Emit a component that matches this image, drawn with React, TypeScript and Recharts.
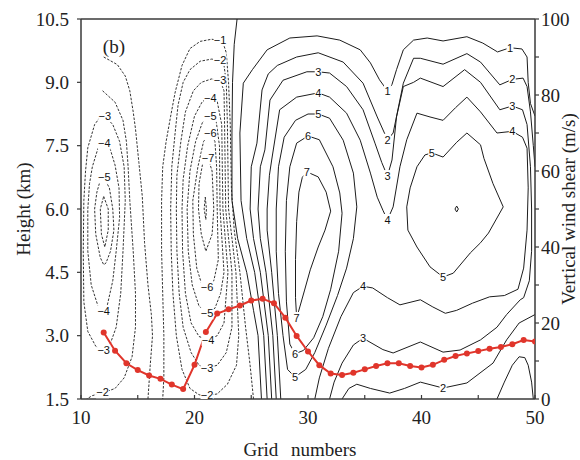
import { ComposedChart, Line, XAxis, YAxis, ReferenceLine, ReferenceDot } from 'recharts'

type Pt = [number, number]

// axes
const xTicks = [10, 15, 20, 25, 30, 35, 40, 45, 50]
const hTicks = [1.5, 3, 4.5, 6, 7.5, 9, 10.5]
const wTicks = [0, 10, 20, 30, 40, 50, 60, 70, 80, 90, 100]

// vertical wind shear (m/s) per grid number
const shearX = [12, 13, 14, 15, 16, 17, 18, 19, 20, 21, 22, 23, 24, 25, 26, 27, 28, 29, 30, 31,
  32, 33, 34, 35, 36, 37, 38, 39, 40, 41, 42, 43, 44, 45, 46, 47, 48, 49, 50]
const shearW = [17.5, 12.7, 9.4, 7.6, 6.2, 5.3, 3.8, 2.6, 9.0, 17.6, 22.5, 23.6, 24.6, 25.9, 26.4, 25.2, 21.4, 16.6, 12.5, 8.9,
  6.7, 6.3, 6.9, 7.8, 8.7, 9.4, 9.4, 8.7, 8.3, 9.0, 10.3, 11.3, 12.0, 12.6, 13.2, 13.7, 14.4, 15.5, 15.1]

// contours, [grid number, height km]
// left negative cell
const cL1: Pt[] = [[12.0, 9.6], [13.2, 9.42], [13.9, 9.15], [14.3, 8.8], [14.6, 8.3], [14.8, 7.9], [15.1, 7.1], [15.4, 6.3], [15.6, 5.2], [15.9, 4.2], [16.2, 3.5], [16.3, 3.0], [16.1, 2.3], [15.9, 1.5]]
const cL2: Pt[] = [[11.9, 8.8], [13.0, 8.53], [13.7, 8.1], [14.0, 7.6], [14.15, 7.0], [14.3, 6.2], [14.6, 5.0], [14.8, 4.0], [14.8, 3.2], [14.5, 2.5], [13.8, 2.0], [13.0, 1.75], [12.0, 1.65], [11.0, 1.58], [10.5, 1.5]]
const cL3: Pt[] = [[12.1, 8.2], [12.8, 8.0], [13.4, 7.6], [13.8, 7.0], [13.9, 6.2], [13.7, 5.0], [13.5, 4.0], [13.1, 3.2], [12.5, 2.75], [12.0, 2.65], [11.3, 2.75], [10.6, 3.1], [10.25, 3.8], [10.2, 5.0], [10.25, 6.2], [10.4, 6.9], [10.6, 7.45], [11.2, 8.0], [11.7, 8.18], [12.1, 8.2]]
const cL4: Pt[] = [[12.0, 7.55], [12.55, 7.44], [13.0, 7.04], [13.35, 6.5], [13.4, 5.8], [13.1, 5.0], [12.8, 4.3], [12.3, 3.7], [12.0, 3.58], [11.5, 3.7], [10.9, 4.2], [10.6, 5.0], [10.6, 6.0], [10.75, 6.6], [11.0, 7.0], [11.5, 7.44], [12.0, 7.55]]
const cL5: Pt[] = [[12.0, 6.75], [12.5, 6.5], [12.8, 6.0], [12.9, 5.5], [12.6, 5.0], [12.2, 4.72], [12.0, 4.68], [11.7, 4.85], [11.3, 5.4], [11.2, 6.0], [11.4, 6.4], [11.7, 6.68], [12.0, 6.75]]
const cL6: Pt[] = [[12.0, 6.3], [12.4, 6.0], [12.4, 5.5], [12.1, 5.1], [11.8, 5.4], [11.7, 6.0], [12.0, 6.3]]

// middle negative cell
const cM1: Pt[] = [[25.2, 1.5], [24.9, 2.3], [24.5, 3.2], [24.0, 4.5], [23.5, 5.5], [23.25, 6.5], [23.15, 8.0], [23.0, 9.0], [22.8, 9.7], [22.5, 9.95], [22.25, 10.0], [21.5, 10.02], [20.5, 9.97], [19.6, 9.8], [18.9, 9.4], [18.3, 8.77], [17.9, 8.2], [17.5, 7.6], [17.2, 7.0], [17.1, 6.2], [17.1, 5.0], [17.2, 4.0], [17.3, 3.0], [17.3, 2.0], [17.2, 1.5]]
const cM2: Pt[] = [[21.1, 1.58], [22.0, 1.62], [22.9, 1.85], [23.7, 2.3], [23.9, 3.0], [23.65, 4.5], [23.0, 6.0], [22.9, 8.0], [22.8, 9.0], [22.6, 9.4], [22.25, 9.53], [21.5, 9.55], [20.5, 9.5], [19.6, 9.3], [19.0, 9.0], [18.55, 8.46], [18.3, 7.82], [18.0, 7.0], [17.9, 6.0], [17.95, 5.0], [18.1, 4.0], [18.4, 3.0], [18.9, 2.2], [19.6, 1.75], [20.4, 1.6], [21.1, 1.58]]
const cM3: Pt[] = [[21.1, 2.23], [22.0, 2.3], [22.8, 2.6], [23.3, 3.2], [23.3, 4.5], [22.75, 6.0], [22.65, 8.0], [22.6, 8.8], [22.25, 9.05], [21.5, 9.08], [20.6, 9.0], [19.9, 8.8], [19.2, 8.3], [18.8, 7.6], [18.45, 6.8], [18.4, 6.0], [18.45, 5.0], [18.65, 4.0], [19.0, 3.2], [19.7, 2.6], [20.4, 2.3], [21.1, 2.23]]
const cM4: Pt[] = [[21.2, 2.9], [22.0, 3.0], [22.6, 3.3], [22.95, 4.5], [22.5, 6.0], [22.4, 8.0], [22.0, 8.55], [21.4, 8.63], [20.7, 8.55], [20.0, 8.2], [19.4, 7.5], [19.0, 6.7], [18.9, 6.0], [18.95, 5.0], [19.2, 4.0], [19.7, 3.3], [20.4, 2.98], [21.2, 2.9]]
const cM5: Pt[] = [[21.1, 3.53], [21.8, 3.65], [22.3, 4.0], [22.6, 4.5], [22.25, 6.0], [22.2, 7.5], [21.9, 8.1], [21.4, 8.2], [20.7, 8.05], [20.1, 7.6], [19.6, 6.9], [19.35, 6.0], [19.45, 5.0], [19.8, 4.2], [20.4, 3.7], [21.1, 3.53]]
const cM6: Pt[] = [[21.1, 4.15], [21.7, 4.3], [22.1, 4.8], [22.0, 6.0], [21.95, 7.0], [21.8, 7.6], [21.4, 7.8], [20.8, 7.6], [20.3, 7.0], [19.85, 6.2], [19.9, 5.4], [20.2, 4.6], [20.6, 4.25], [21.1, 4.15]]
const cM7: Pt[] = [[21.2, 7.2], [21.55, 6.9], [21.7, 6.0], [21.55, 5.4], [21.0, 5.0], [20.6, 5.4], [20.35, 6.0], [20.4, 6.6], [20.7, 7.05], [21.2, 7.2]]
const cM8: Pt[] = [[20.95, 6.28], [21.05, 6.0], [21.0, 5.75], [20.85, 6.0], [20.95, 6.28]]

// positive region
const cP0: Pt[] = [[23.75, 10.5], [23.5, 9.9], [23.35, 9.0], [23.3, 7.8], [23.3, 6.2], [23.8, 5.3], [24.6, 4.5], [25.2, 3.6], [25.6, 3.0], [25.9, 1.5]]
const cP1: Pt[] = [[26.4, 1.5], [26.1, 3.0], [25.3, 4.5], [24.6, 5.3], [24.1, 6.2], [24.0, 7.8], [24.3, 8.98], [25.1, 9.3], [26.4, 9.77], [28.4, 10.05], [30.8, 10.1], [32.8, 10.0], [34.6, 9.77], [35.5, 9.46], [36.3, 9.06], [37.0, 8.8], [37.4, 8.95], [37.8, 9.3], [38.4, 9.77], [39.3, 10.0], [40.5, 10.05], [41.9, 9.98], [44.0, 10.08], [45.4, 9.93], [46.7, 9.72], [47.8, 9.82], [48.85, 9.79], [49.3, 9.6], [49.4, 9.0], [49.6, 8.5], [50, 8.2]]
const cP2: Pt[] = [[26.8, 1.5], [26.5, 3.0], [25.8, 4.5], [25.2, 5.3], [24.9, 6.0], [25.0, 7.0], [25.5, 7.56], [25.95, 8.82], [26.5, 9.2], [27.3, 9.4], [29.0, 9.6], [30.9, 9.7], [33.1, 9.48], [34.85, 8.98], [36.1, 8.18], [37.0, 7.64], [37.5, 7.8], [38.4, 8.98], [39.3, 9.57], [39.9, 9.57], [41.9, 9.43], [44.0, 9.68], [45.2, 9.48], [46.9, 8.94], [48.0, 9.07], [48.95, 9.1], [49.3, 8.9], [49.6, 8.3], [49.85, 7.5], [50, 7.0]]
const cP3: Pt[] = [[27.2, 1.5], [26.9, 3.0], [26.3, 4.5], [25.8, 5.3], [25.6, 6.0], [25.8, 7.0], [26.2, 7.4], [26.65, 8.58], [27.8, 9.05], [29.9, 9.25], [30.9, 9.25], [31.9, 9.22], [33.4, 8.9], [34.85, 8.35], [35.9, 7.56], [36.5, 7.1], [37.0, 6.78], [37.4, 7.16], [37.8, 8.18], [38.4, 8.9], [39.3, 9.0], [39.9, 9.1], [41.9, 8.9], [43.8, 9.3], [45.2, 9.0], [46.9, 8.35], [48.0, 8.44], [48.9, 8.35], [49.3, 8.0], [49.6, 7.0], [49.7, 6.0], [49.7, 5.0], [49.5, 4.3], [49.0, 3.9], [48.7, 3.85], [47.5, 3.5], [46.65, 3.2], [45.2, 2.9], [43.4, 2.66], [41.9, 2.61], [39.9, 2.85], [37.5, 2.59], [36.6, 2.67], [34.85, 2.94], [34.0, 2.78], [33.0, 2.35], [32.3, 1.9], [31.9, 1.5]]
const cP4: Pt[] = [[27.6, 1.5], [27.3, 3.0], [26.8, 4.5], [26.4, 5.5], [26.4, 6.0], [26.6, 6.8], [26.8, 7.16], [27.5, 8.35], [29.0, 8.65], [30.9, 8.75], [31.9, 8.65], [33.4, 8.27], [34.6, 7.63], [35.5, 6.85], [36.1, 6.28], [36.6, 5.97], [37.0, 5.74], [37.5, 6.05], [38.1, 7.0], [38.7, 7.64], [39.6, 8.27], [40.75, 8.18], [41.9, 8.1], [43.0, 8.4], [44.0, 8.65], [45.2, 8.3], [46.65, 7.8], [48.0, 7.84], [48.9, 7.7], [49.3, 7.44], [49.4, 6.5], [49.3, 5.5], [49.0, 4.6], [48.5, 4.1], [47.3, 3.95], [46.0, 3.92], [44.5, 3.77], [43.1, 3.6], [42.1, 3.53], [41.0, 3.68], [39.9, 3.85], [38.1, 3.73], [37.0, 3.9], [35.7, 4.13], [34.85, 4.17], [34.0, 4.02], [32.9, 3.45], [31.8, 2.7], [31.0, 2.0], [30.6, 1.5]]
const cP5: Pt[] = [[30.9, 8.25], [31.9, 8.15], [33.1, 7.63], [34.0, 6.85], [34.3, 6.05], [34.0, 5.3], [33.4, 4.6], [32.6, 3.95], [31.6, 3.25], [30.6, 2.6], [29.8, 2.2], [28.85, 2.02], [28.2, 2.2], [27.8, 3.0], [27.4, 4.0], [27.2, 5.0], [27.2, 6.0], [27.4, 7.0], [27.9, 7.7], [28.9, 8.1], [30.0, 8.25], [30.9, 8.25]]
const cP6: Pt[] = [[30.0, 7.73], [31.0, 7.64], [32.2, 7.0], [32.8, 6.38], [33.0, 5.9], [32.7, 5.0], [32.0, 4.1], [31.3, 3.45], [30.5, 2.95], [29.6, 2.65], [28.85, 2.57], [28.4, 2.8], [28.1, 3.8], [28.0, 5.0], [28.1, 6.2], [28.4, 7.0], [29.0, 7.56], [30.0, 7.73]]
const cP7: Pt[] = [[29.9, 6.88], [30.9, 6.76], [31.6, 6.4], [32.0, 5.95], [31.5, 5.5], [30.9, 5.1], [30.2, 4.56], [29.7, 4.08], [29.3, 3.7], [29.0, 3.42], [28.9, 3.9], [28.9, 4.8], [29.0, 5.7], [29.2, 6.4], [29.5, 6.75], [29.9, 6.88]]
const cR5: Pt[] = [[40.9, 7.33], [41.9, 7.23], [43.1, 7.58], [44.0, 7.8], [45.2, 7.52], [45.5, 7.2], [46.3, 6.6], [47.2, 6.05], [45.9, 5.43], [45.2, 5.2], [44.3, 4.96], [42.8, 4.48], [41.9, 4.39], [40.75, 4.63], [39.6, 5.1], [38.8, 5.5], [38.7, 6.05], [39.0, 6.5], [39.6, 7.0], [40.3, 7.28], [40.9, 7.33]]
const cR6: Pt[] = [[42.95, 6.0], [43.1, 6.07], [43.25, 6.0], [43.1, 5.93], [42.95, 6.0]]
const cB2: Pt[] = [[33.0, 1.5], [33.6, 1.75], [34.3, 1.85], [35.5, 1.75], [37.2, 1.64], [38.5, 1.75], [39.9, 1.9], [41.9, 1.76], [44.0, 1.88], [46.3, 2.35], [47.5, 2.9], [48.6, 3.3], [50, 3.5]]
const cB3: Pt[] = [[46.65, 1.5], [47.3, 1.9], [48.0, 2.3], [48.6, 2.5], [49.1, 2.48], [49.4, 2.3], [49.7, 1.9], [49.85, 1.5]]

const dashedContours = [cL1, cL2, cL3, cL4, cL5, cL6, cM1, cM2, cM3, cM4, cM5, cM6, cM7, cM8]
const solidContours = [cP0, cP1, cP2, cP3, cP4, cP5, cP6, cP7, cR5, cR6, cB2, cB3]

// contour labels
const labelX = [12.1, 12.05, 12.05, 12.0, 12.0, 11.9, 22.25, 22.25, 22.25, 21.4, 21.4, 21.4, 21.2, 21.1, 21.1, 21.2, 21.1, 21.1,
  37.0, 47.8, 37.0, 48.0, 30.9, 37.0, 48.0, 30.9, 37.0, 48.0, 34.85, 30.9, 40.9, 41.9, 30.0, 29.9, 29.0, 28.85, 28.85, 34.85, 41.9]
const labelH = [8.2, 7.55, 6.75, 3.58, 2.65, 1.66, 10.0, 9.53, 9.05, 8.63, 8.2, 7.8, 7.2, 4.15, 3.53, 2.9, 2.23, 1.6,
  8.8, 9.82, 7.64, 9.07, 9.25, 6.78, 8.44, 8.75, 5.74, 7.84, 4.17, 8.25, 7.33, 4.39, 7.73, 6.88, 3.42, 2.57, 2.02, 2.94, 1.76]
const labelText = ['−3', '−4', '−5', '−4', '−3', '−2', '−1', '−2', '−3', '−4', '−5', '−6', '−7', '−6', '−5', '−4', '−3', '−2',
  '1', '1', '2', '2', '3', '3', '3', '4', '4', '4', '4', '5', '5', '5', '6', '7', '7', '6', '5', '3', '2']

const toPts = (c: Pt[]) => c.map(([x, h]) => ({ x, h }))
const shearData = shearX.map((x, i) => ({ x, w: shearW[i] }))
const labelData = labelX.map((x, i) => ({ x, h: labelH[i], t: labelText[i] }))

const ink = '#1c1c1c'
const axisInk = '#3a3a3a'
const red = '#e0352b'
const serif = '"Liberation Serif", "Times New Roman", serif'

function XTick(p: any) {
  const v = p.payload.value
  return (
    <g>
      <line x1={p.x} y1={p.y} x2={p.x} y2={p.y - 4} stroke={axisInk} strokeWidth={1.2} />
      {v % 10 === 0 && (
        <text x={p.x} y={p.y + 25} textAnchor="middle" fontSize={19} fontFamily={serif} fill="#222">{v}</text>
      )}
    </g>
  )
}

function HTick(p: any) {
  const v = p.payload.value
  return (
    <g>
      <line x1={p.x} y1={p.y} x2={p.x - 4} y2={p.y} stroke={axisInk} strokeWidth={1.2} />
      <text x={p.x - 12} y={p.y} dy="0.35em" textAnchor="end" fontSize={19} fontFamily={serif} fill="#222">{v.toFixed(1)}</text>
    </g>
  )
}

function WTick(p: any) {
  const v = p.payload.value
  return (
    <g>
      <line x1={p.x} y1={p.y} x2={p.x + 4} y2={p.y} stroke={axisInk} strokeWidth={1.2} />
      {v % 20 === 0 && (
        <text x={p.x + 6} y={p.y} dy="0.35em" textAnchor="start" fontSize={19} fontFamily={serif} fill="#222">{v}</text>
      )}
    </g>
  )
}

function ContourLabel(p: any) {
  const { cx, cy, payload, index } = p
  const w = payload.t.length * 6 + 1
  return (
    <g key={'lab' + index}>
      <rect x={cx - w / 2} y={cy - 6} width={w} height={12} fill="#fff" />
      <text x={cx} y={cy} dy="0.35em" textAnchor="middle" fontSize={11} fontFamily='"Liberation Sans", Arial, sans-serif' fill="#111">{payload.t}</text>
    </g>
  )
}

function PanelTag(p: any) {
  return <text x={p.cx} y={p.cy} dy="0.35em" textAnchor="middle" fontSize={19} fontFamily={serif} fill="#222">(b)</text>
}

export default function App() {
  return (
    <div style={{ position: 'absolute', left: 0, top: 0, background: '#fff' }}>
      <ComposedChart width={580} height={460} margin={{ top: 19, right: 5, bottom: 21, left: 21 }}>
        <XAxis
          dataKey="x" type="number" domain={[10, 50]} ticks={xTicks} interval={0} allowDataOverflow
          tickSize={0} tickMargin={0} tick={XTick} height={40}
          axisLine={{ stroke: axisInk, strokeWidth: 1.5 }}
          label={{
            content: (lp: any) => {
              const v = lp.viewBox
              return (
                <text x={v.x + v.width / 2 - 8} y={v.y + 57} textAnchor="middle" fontSize={19} fontFamily={serif} fill="#222" wordSpacing={8}>
                  Grid numbers
                </text>
              )
            },
          }}
        />
        <YAxis
          yAxisId="h" type="number" domain={[1.5, 10.5]} ticks={hTicks} interval={0} allowDataOverflow
          width={60} tickSize={0} tickMargin={0} tick={HTick}
          axisLine={{ stroke: axisInk, strokeWidth: 1.5 }}
          label={{
            content: (lp: any) => {
              const v = lp.viewBox
              const cx = v.x + 2
              const cy = v.y + v.height / 2
              return (
                <text x={cx} y={cy} dy="0.35em" textAnchor="middle" transform={`rotate(-90 ${cx} ${cy})`} fontSize={19} fontFamily={serif} fill="#222">
                  Height (km)
                </text>
              )
            },
          }}
        />
        <YAxis
          yAxisId="w" orientation="right" type="number" domain={[0, 100]} ticks={wTicks} interval={0} allowDataOverflow
          width={40} tickSize={0} tickMargin={0} tick={WTick}
          axisLine={{ stroke: axisInk, strokeWidth: 1.5 }}
          label={{
            content: (lp: any) => {
              const v = lp.viewBox
              const cx = v.x + 33
              const cy = v.y + v.height / 2
              return (
                <text x={cx} y={cy} dy="0.35em" textAnchor="middle" transform={`rotate(-90 ${cx} ${cy})`} fontSize={19} fontFamily={serif} fill="#222">
                  Vertical wind shear (m/s)
                </text>
              )
            },
          }}
        />
        <ReferenceLine yAxisId="h" y={10.5} stroke={axisInk} strokeWidth={1.5} />

        {dashedContours.map((c, i) => (
          <Line key={'d' + i} yAxisId="h" data={toPts(c)} dataKey="h" type="linear" stroke={ink} strokeWidth={0.9}
            strokeDasharray="2.5 1.5" dot={false} activeDot={false} isAnimationActive={false} legendType="none" />
        ))}
        {solidContours.map((c, i) => (
          <Line key={'s' + i} yAxisId="h" data={toPts(c)} dataKey="h" type="linear" stroke={ink} strokeWidth={1}
            dot={false} activeDot={false} isAnimationActive={false} legendType="none" />
        ))}
        <Line yAxisId="h" data={labelData} dataKey="h" stroke="none" dot={ContourLabel} activeDot={false}
          isAnimationActive={false} legendType="none" />
        <ReferenceDot yAxisId="h" x={12.9} y={9.85} r={1} shape={PanelTag} />
        <Line yAxisId="w" data={shearData} dataKey="w" type="linear" stroke={red} strokeWidth={2}
          dot={{ r: 3, fill: red, stroke: red, strokeWidth: 0 }} activeDot={false} isAnimationActive={false} legendType="none" />
      </ComposedChart>
    </div>
  )
}
